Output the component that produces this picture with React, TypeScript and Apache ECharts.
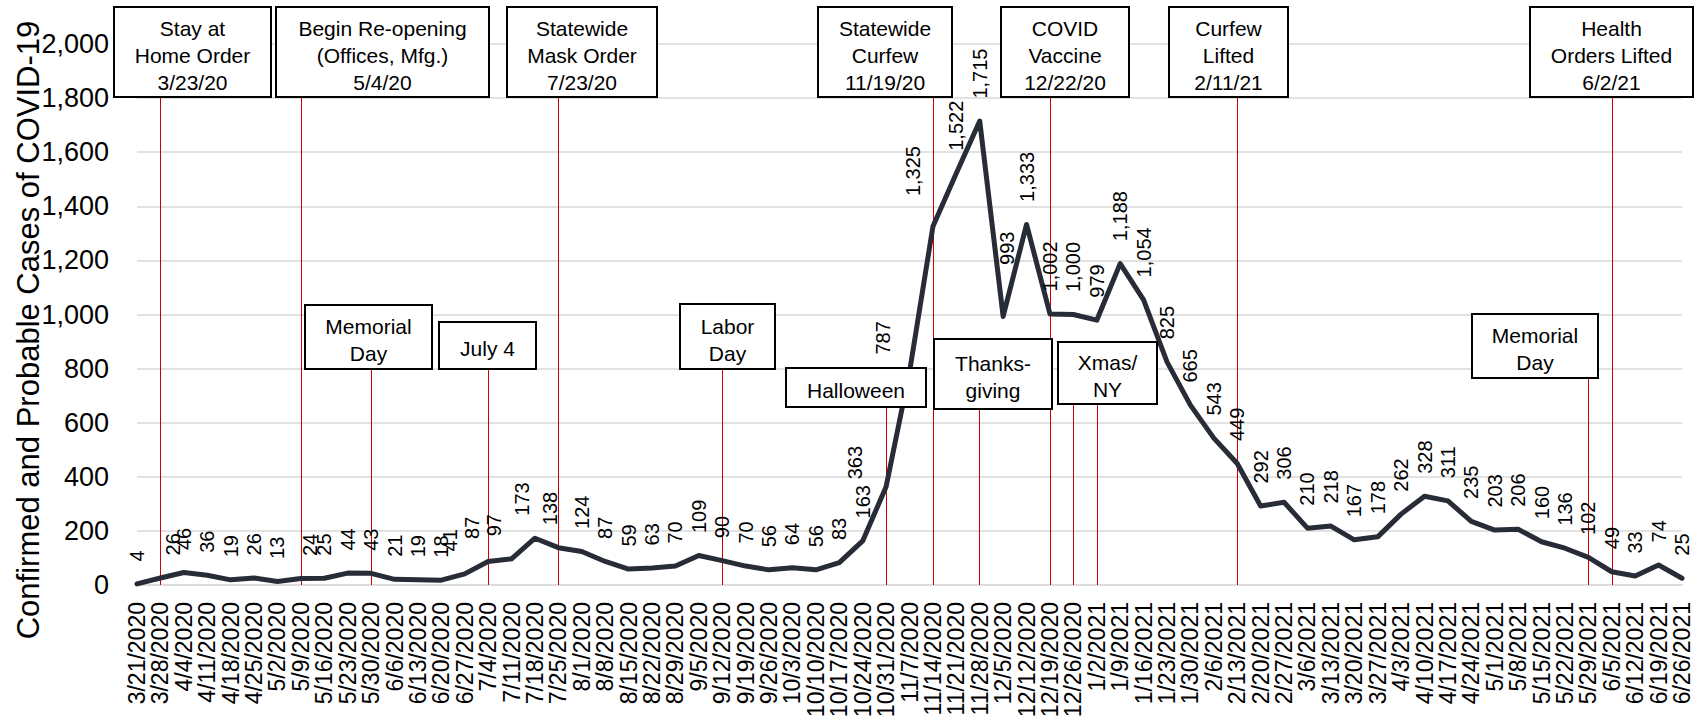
import React, { useEffect, useRef } from 'react';
import * as echarts from 'echarts';

// ---------- data ----------
const dates = [
  '3/21/2020', '3/28/2020', '4/4/2020', '4/11/2020', '4/18/2020', '4/25/2020', '5/2/2020', '5/9/2020',
  '5/16/2020', '5/23/2020', '5/30/2020', '6/6/2020', '6/13/2020', '6/20/2020', '6/27/2020', '7/4/2020',
  '7/11/2020', '7/18/2020', '7/25/2020', '8/1/2020', '8/8/2020', '8/15/2020', '8/22/2020', '8/29/2020',
  '9/5/2020', '9/12/2020', '9/19/2020', '9/26/2020', '10/3/2020', '10/10/2020', '10/17/2020', '10/24/2020',
  '10/31/2020', '11/7/2020', '11/14/2020', '11/21/2020', '11/28/2020', '12/5/2020', '12/12/2020', '12/19/2020',
  '12/26/2020', '1/2/2021', '1/9/2021', '1/16/2021', '1/23/2021', '1/30/2021', '2/6/2021', '2/13/2021',
  '2/20/2021', '2/27/2021', '3/6/2021', '3/13/2021', '3/20/2021', '3/27/2021', '4/3/2021', '4/10/2021',
  '4/17/2021', '4/24/2021', '5/1/2021', '5/8/2021', '5/15/2021', '5/22/2021', '5/29/2021', '6/5/2021',
  '6/12/2021', '6/19/2021', '6/26/2021',
];

const cases = [
  4, 26, 46, 36, 19, 26, 13, 24, 25, 44, 43, 21, 19, 18, 41, 87,
  97, 173, 138, 124, 87, 59, 63, 70, 109, 90, 70, 56, 64, 56, 83, 163,
  363, 787, 1325, 1522, 1715, 993, 1333, 1002, 1000, 979, 1188, 1054, 825, 665,
  543, 449, 292, 306, 210, 218, 167, 178, 262, 328, 311, 235, 203, 206, 160, 136,
  102, 49, 33, 74, 25,
];

const yTicks = { min: 0, max: 2000, interval: 200 };

// events: week (category) on which the marker line is drawn
const eventNames = [
  'Stay at Home Order', 'Begin Re-opening', 'Memorial Day', 'July 4', 'Statewide Mask Order',
  'Labor Day', 'Halloween', 'Statewide Curfew', 'Thanksgiving', 'COVID Vaccine', 'Xmas', 'NY',
  'Curfew Lifted', 'Memorial Day 2021', 'Health Orders Lifted',
];
const eventWeek = [
  '3/28/2020', '5/9/2020', '5/30/2020', '7/4/2020', '7/25/2020',
  '9/12/2020', '10/31/2020', '11/14/2020', '11/28/2020', '12/19/2020', '12/26/2020', '1/2/2021',
  '2/13/2021', '5/29/2021', '6/5/2021',
];

const yAxisTitle = 'Confirmed and Probable Cases of COVID-19';

// ---------- layout (pixels) ----------
const W = 1704;
const H = 722;
const GRID = { left: 137, right: 22, top: 44, bottom: 137 };
const FONT = "'Liberation Sans', Arial, Helvetica, sans-serif";

// annotation boxes: text lines, events attached, rectangle [x0, y0, x1, y1]
const boxes = [
  { lines: ['Stay at', 'Home Order', '3/23/20'], ev: [0], r: [114, 7, 271, 97] },
  { lines: ['Begin Re-opening', '(Offices, Mfg.)', '5/4/20'], ev: [1], r: [276, 7, 489, 97] },
  { lines: ['Memorial', 'Day'], ev: [2], r: [305, 305, 432, 369] },
  { lines: ['July 4'], ev: [3], r: [439, 322, 536, 369] },
  { lines: ['Statewide', 'Mask Order', '7/23/20'], ev: [4], r: [507, 7, 657, 97] },
  { lines: ['Labor', 'Day'], ev: [5], r: [680, 304, 775, 369] },
  { lines: ['Halloween'], ev: [6], r: [786, 368, 926, 407] },
  { lines: ['Statewide', 'Curfew', '11/19/20'], ev: [7], r: [818, 7, 952, 97] },
  { lines: ['Thanks-', 'giving'], ev: [8], r: [934, 339, 1052, 409] },
  { lines: ['COVID', 'Vaccine', '12/22/20'], ev: [9], r: [1001, 7, 1129, 97] },
  { lines: ['Xmas/', 'NY'], ev: [10, 11], r: [1058, 342, 1157, 404] },
  { lines: ['Curfew', 'Lifted', '2/11/21'], ev: [12], r: [1169, 7, 1288, 97] },
  { lines: ['Memorial', 'Day'], ev: [13], r: [1472, 314, 1598, 378] },
  { lines: ['Health', 'Orders Lifted', '6/2/21'], ev: [14], r: [1530, 7, 1693, 97] },
];

// manual nudges of some data labels (screen px: dx right, dy down)
const labelNudge: Record<number, [number, number]> = {
  1: [13, 0], 7: [9, 0], 14: [-15, 0], 15: [-16, 0], 16: [-18, 0], 17: [-13, 0], 18: [-8, 0],
  32: [-31, 15], 33: [-27, 5], 34: [-20, -8], 37: [4, -29],
};

const fmt = (v: number) => v.toLocaleString('en-US');

export default function App() {
  const ref = useRef<HTMLDivElement>(null);

  useEffect(() => {
    const chart = echarts.init(ref.current as HTMLDivElement, null, { renderer: 'svg' });
    const plotBottom = H - GRID.bottom;
    const plotH = H - GRID.top - GRID.bottom;
    const valueAtPixel = (py: number) => ((plotBottom - py) / plotH) * yTicks.max;

    const markLineData: any[] = [];
    boxes.forEach((b) => {
      b.ev.forEach((e) => {
        markLineData.push([
          { name: eventNames[e], coord: [eventWeek[e], 0] },
          { coord: [eventWeek[e], valueAtPixel(b.r[3])] },
        ]);
      });
    });

    const graphics: any[] = [];
    boxes.forEach((b) => {
      const [x0, y0, x1, y1] = b.r;
      graphics.push({
        type: 'rect',
        z: 100,
        shape: { x: x0, y: y0, width: x1 - x0, height: y1 - y0 },
        style: { fill: '#ffffff', stroke: '#000000', lineWidth: 2 },
      });
      graphics.push({
        type: 'text',
        z: 101,
        x: (x0 + x1) / 2,
        y: (y0 + y1) / 2 + 3,
        style: {
          text: b.lines.join('\n'),
          fontSize: 21,
          fontFamily: FONT,
          fill: '#000000',
          align: 'center',
          verticalAlign: 'middle',
          textAlign: 'center',
          textVerticalAlign: 'middle',
          lineHeight: 27,
        },
      });
    });
    graphics.push({
      type: 'text',
      z: 101,
      x: 28,
      y: 330,
      rotation: Math.PI / 2,
      style: {
        text: yAxisTitle,
        fontSize: 31,
        fontFamily: FONT,
        fill: '#000000',
        align: 'center',
        verticalAlign: 'middle',
        textAlign: 'center',
        textVerticalAlign: 'middle',
      },
    });

    chart.setOption({
      animation: false,
      backgroundColor: '#ffffff',
      textStyle: { fontFamily: FONT },
      grid: { left: GRID.left, right: GRID.right, top: GRID.top, bottom: GRID.bottom, containLabel: false },
      xAxis: {
        type: 'category',
        data: dates,
        boundaryGap: false,
        axisLine: { show: true, lineStyle: { color: '#d9d9d9', width: 1.5 } },
        axisTick: { show: false },
        axisLabel: {
          interval: 0,
          rotate: 90,
          fontSize: 23,
          color: '#000000',
          fontFamily: FONT,
          margin: 17,
        },
        splitLine: { show: false },
      },
      yAxis: {
        type: 'value',
        min: yTicks.min,
        max: yTicks.max,
        interval: yTicks.interval,
        axisLine: { show: false },
        axisTick: { show: false },
        axisLabel: {
          fontSize: 27,
          color: '#000000',
          fontFamily: FONT,
          margin: 28,
          formatter: (v: number) => fmt(v),
        },
        splitLine: { show: true, lineStyle: { color: '#d9d9d9', width: 1.5 } },
      },
      series: [
        {
          type: 'line',
          name: 'Cases',
          data: cases,
          z: 3,
          symbol: 'circle',
          symbolSize: 1,
          showSymbol: true,
          itemStyle: { color: '#282c37' },
          lineStyle: { color: '#282c37', width: 5, join: 'round', cap: 'round' },
          label: {
            show: true,
            position: 'top',
            rotate: 90,
            align: 'left',
            verticalAlign: 'middle',
            distance: 22,
            fontSize: 20,
            color: '#000000',
            fontFamily: FONT,
            formatter: (p: any) => fmt(p.value as number),
          },
          // label layout shifts are applied in the label's rotated frame
          labelLayout: (p: any) => {
            const n = labelNudge[p.dataIndex];
            return n ? { dx: -n[1], dy: n[0], hideOverlap: false } : { hideOverlap: false };
          },
          emphasis: { disabled: true },
          markLine: {
            silent: true,
            symbol: 'none',
            z: 1,
            label: { show: false },
            lineStyle: { color: '#cc0000', width: 1, type: 'solid' },
            data: markLineData,
          },
        },
      ],
      graphic: graphics,
    });

    return () => chart.dispose();
  }, []);

  return (
    <div
      ref={ref}
      style={{ position: 'fixed', left: 0, top: 0, width: W, height: H, background: '#fff' }}
    />
  );
}
